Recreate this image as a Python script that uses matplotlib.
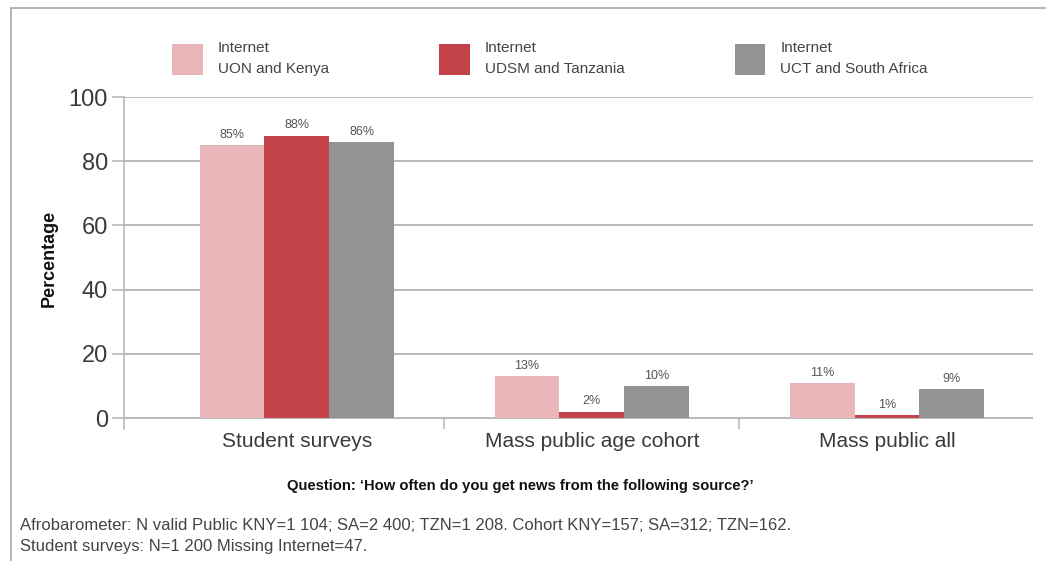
import matplotlib
matplotlib.use("Agg")
import matplotlib.pyplot as plt
from matplotlib.patches import Patch
from matplotlib.lines import Line2D
import numpy as np

plt.rcParams["font.family"] = ["Liberation Sans", "DejaVu Sans"]

# data
categories = ["Student surveys", "Mass public age cohort", "Mass public all"]
series_names = ["Internet\nUON and Kenya", "Internet\nUDSM and Tanzania",
                "Internet\nUCT and South Africa"]
kenya = [85, 13, 11]
tanzania = [88, 2, 1]
south_africa = [86, 10, 9]
colors = ["#e8b6b9", "#c4424a", "#939396"]

W, H = 1046, 561
fig = plt.figure(figsize=(W / 100, H / 100), dpi=100)

# axes placed in pixel terms of the reference
left, right, top, bottom = 124, 1033, 97, 429
ax = fig.add_axes([left / W, 1 - bottom / H, (right - left) / W, (bottom - top) / H])

x = np.arange(len(categories))
width = 0.22
grid_c = "#b4b4b4"
text_c = "#3a3a3a"

for i, (vals, col) in enumerate(zip([kenya, tanzania, south_africa], colors)):
    bars = ax.bar(x + (i - 1) * width, vals, width, color=col, zorder=3)
    for b, v in zip(bars, vals):
        ax.annotate(f"{v}%", (b.get_x() + b.get_width() / 2, v),
                    xytext=(0, 3), textcoords="offset points",
                    ha="center", va="bottom", fontsize=9, color="#555555")

ax.set_xlim(-0.586, 2.495)
ax.set_ylim(-3.4, 100)
ax.set_yticks([0, 20, 40, 60, 80, 100])
ax.yaxis.grid(True, color=grid_c, linewidth=1.3, zorder=0)
ax.tick_params(axis="y", length=8.5, width=1.1, color=grid_c,
               labelsize=17, labelcolor=text_c, pad=3)
ax.set_xticks(x)
ax.set_xticklabels(categories)
ax.tick_params(axis="x", which="major", length=0, labelsize=15,
               labelcolor=text_c, pad=2)
ax.set_xticks([0.5, 1.5], minor=True)
ax.tick_params(axis="x", which="minor", direction="in", length=8,
               width=1.1, color=grid_c)

for s in ["top", "right", "bottom"]:
    ax.spines[s].set_visible(False)
ax.spines["left"].set_color(grid_c)
ax.spines["left"].set_linewidth(1.1)

ax.set_ylabel("Percentage", fontsize=13, fontweight="bold", color="#111111")
ax.yaxis.set_label_coords(-0.073, 0.515)

handles = [Patch(facecolor=c, edgecolor="none") for c in colors]
leg = fig.legend(handles, series_names, loc="upper left", ncol=3,
                 bbox_to_anchor=(172 / W, 1 - 41 / H), frameon=False,
                 fontsize=11, labelcolor="#444444", borderpad=0,
                 borderaxespad=0, handlelength=2.0, handleheight=2.0,
                 handletextpad=1.0, columnspacing=7.2)
for t in leg.get_texts():
    t.set_linespacing(1.6)
for p in leg.get_patches():
    p.set_height(31 * 72 / 100)
    p.set_y(p.get_y() - 3)

fig.text(520 / W, 1 - 486 / H,
         "Question: \u2018How often do you get news from the following source?\u2019",
         ha="center", va="center", fontsize=10.6, fontweight="bold", color="#111111")
fig.text(20 / W, 1 - 525 / H,
         "Afrobarometer: N valid Public KNY=1 104; SA=2 400; TZN=1 208. "
         "Cohort KNY=157; SA=312; TZN=162.",
         ha="left", va="center", fontsize=12, color="#444444")
fig.text(20 / W, 1 - 547 / H,
         "Student surveys: N=1 200 Missing Internet=47.",
         ha="left", va="center", fontsize=12, color="#444444")

# outer frame (top and left edges)
fy = 1 - 8 / H
fx = 11 / W
fig.add_artist(Line2D([fx, 1], [fy, fy], transform=fig.transFigure,
                      color="#a8a8a8", linewidth=1.2))
fig.add_artist(Line2D([fx, fx], [0, fy], transform=fig.transFigure,
                      color="#a8a8a8", linewidth=1.2))

fig.savefig("out.png", dpi=100)
